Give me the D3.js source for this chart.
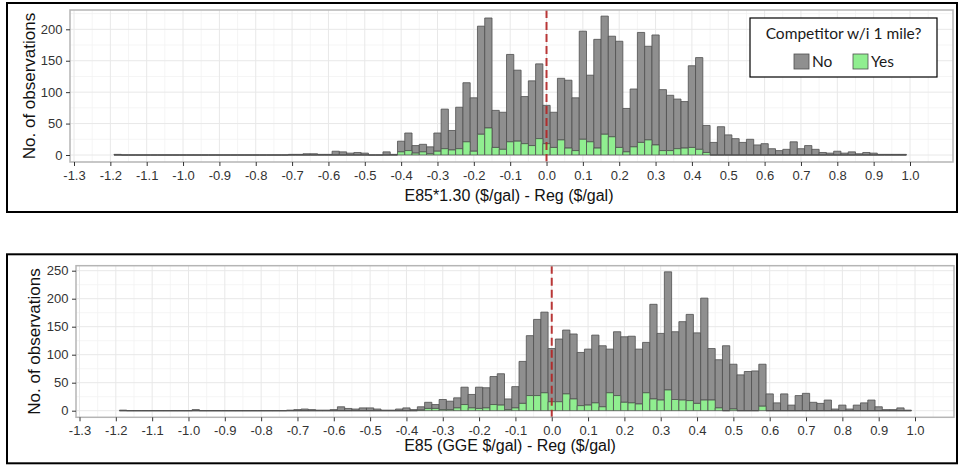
<!DOCTYPE html>
<html>
<head>
<meta charset="utf-8">
<script src="https://cdn.jsdelivr.net/npm/d3@7"></script>
<style>
  body { margin: 0; background: #fff; }
  svg { display: block; }
  text { font-family: "Liberation Sans", Arial, sans-serif; }
</style>
</head>
<body>
<svg id="chart" width="959" height="465"></svg>
<script>
// histogram bins are 0.02 wide, the first one starts at -1.19
var binStart = -1.19
var binWidth = 0.02

var xTicks = [-1.3, -1.2, -1.1, -1.0, -0.9, -0.8, -0.7, -0.6, -0.5, -0.4, -0.3, -0.2, -0.1,
              0.0, 0.1, 0.2, 0.3, 0.4, 0.5, 0.6, 0.7, 0.8, 0.9, 1.0]
var topTicksY = [0, 50, 100, 150, 200]
var botTicksY = [0, 50, 100, 150, 200, 250]
var groups = ["No", "Yes"]

// top chart: E85*1.30 - Reg, total count per bin and the "Yes" (competitor) part
var topAll = [1, 0, 0, 0, 0, 0, 0, 0, 0, 0,
              0, 0, 0, 0, 0, 0, 0, 0, 0, 0,
              0, 0, 0, 0, 1, 1, 2, 2, 1, 1,
              6, 5, 3, 4, 3, 0, 0, 5, 1, 22,
              35, 15, 17, 13, 35, 73, 39, 76, 115, 91,
              205, 218, 71, 68, 160, 135, 93, 118, 145, 79,
              68, 122, 119, 91, 197, 127, 184, 221, 189, 181,
              74, 105, 195, 173, 191, 104, 95, 89, 85, 142,
              155, 47, 20, 45, 32, 26, 20, 25, 16, 18,
              10, 7, 9, 21, 10, 15, 9, 4, 3, 6,
              3, 5, 2, 4, 3, 1, 1, 1, 1]
var topYes = [0, 0, 0, 0, 0, 0, 0, 0, 0, 0,
              0, 0, 0, 0, 0, 0, 0, 0, 0, 0,
              0, 0, 0, 0, 0, 0, 0, 0, 0, 0,
              0, 0, 0, 0, 0, 0, 0, 0, 0, 5,
              7, 3, 5, 2, 6, 10, 8, 10, 21, 6,
              33, 43, 12, 9, 21, 22, 18, 15, 26, 18,
              12, 24, 11, 7, 25, 21, 11, 33, 29, 12,
              5, 13, 20, 24, 16, 7, 7, 10, 11, 12,
              9, 4, 0, 0, 0, 0, 0, 0, 0, 0,
              0, 0, 0, 0, 0, 0, 0, 0, 0, 0,
              0, 0, 0, 0, 0, 0, 0, 0, 0]

// bottom chart: E85 (GGE) - Reg
var botAll = [1, 0, 0, 0, 0, 0, 0, 0, 0, 0,
              2, 0, 0, 0, 0, 0, 0, 0, 0, 0,
              0, 0, 0, 1, 2, 3, 2, 1, 1, 2,
              7, 4, 3, 5, 5, 3, 1, 1, 3, 5,
              2, 7, 15, 11, 20, 17, 23, 42, 29, 42,
              41, 61, 66, 21, 43, 88, 134, 163, 176, 111,
              128, 144, 137, 104, 110, 135, 116, 110, 141, 132,
              133, 110, 122, 190, 138, 248, 141, 159, 172, 139,
              201, 111, 91, 116, 83, 64, 70, 71, 83, 30,
              14, 30, 10, 27, 31, 15, 13, 19, 3, 10,
              3, 10, 14, 19, 7, 2, 2, 5, 1]
var botYes = [0, 0, 0, 0, 0, 0, 0, 0, 0, 0,
              0, 0, 0, 0, 0, 0, 0, 0, 0, 0,
              0, 0, 0, 0, 0, 0, 0, 0, 0, 0,
              0, 0, 0, 0, 0, 0, 0, 0, 0, 0,
              0, 1, 4, 4, 2, 2, 5, 11, 5, 4,
              5, 11, 10, 2, 5, 13, 27, 27, 32, 16,
              16, 30, 21, 9, 10, 14, 7, 32, 27, 15,
              14, 12, 32, 21, 19, 37, 20, 19, 18, 13,
              19, 19, 5, 0, 3, 0, 0, 0, 8, 0,
              0, 0, 0, 0, 0, 0, 0, 0, 0, 0,
              0, 0, 0, 0, 0, 0, 0, 0, 0]

var color = d3.scaleOrdinal().domain(groups).range(["#8f8f8f", "#90ee90"])
var outline = "#4f4f4f"

var fmt = d3.formatLocale({decimal: ".", thousands: ",", grouping: [3], currency: ["$", ""], minus: "-"}).format(".1f")

var svg = d3.select("#chart")

function drawPanel(cfg, all, yes, yTicks, xTitle) {
  var g = svg.append("g")

  var x = d3.scaleLinear().domain([xTicks[0], xTicks[xTicks.length - 1]]).range([cfg.x13, cfg.x10])
  var y = d3.scaleLinear().domain([0, yTicks[yTicks.length - 1]]).range([cfg.y0, cfg.yTopTick])

  // outer black frame
  g.append("rect")
    .attr("x", cfg.frame[0]).attr("y", cfg.frame[1])
    .attr("width", cfg.frame[2]).attr("height", cfg.frame[3])
    .attr("fill", "none").attr("stroke", "#000").attr("stroke-width", 2)

  // minor grid (halfway between breaks, plus one past the last one if it fits)
  var xMinor = xTicks.slice(0, -1).map(function(t, i) { return (t + xTicks[i + 1]) / 2 })
  xMinor.push(xTicks[xTicks.length - 1] + 0.05)
  xMinor = xMinor.filter(function(v) { return x(v) > cfg.left && x(v) < cfg.right })
  var yStep = yTicks[1] - yTicks[0]
  var yMinor = yTicks.map(function(t) { return t + yStep / 2 })
    .filter(function(v) { return y(v) > cfg.top })

  g.selectAll(".vminor").data(xMinor).enter().append("line")
    .attr("x1", function(d) { return x(d) }).attr("x2", function(d) { return x(d) })
    .attr("y1", cfg.top).attr("y2", cfg.bottom)
    .attr("stroke", "#f2f2f2").attr("stroke-width", 0.8)
  g.selectAll(".hminor").data(yMinor).enter().append("line")
    .attr("x1", cfg.left).attr("x2", cfg.right)
    .attr("y1", function(d) { return y(d) }).attr("y2", function(d) { return y(d) })
    .attr("stroke", "#f2f2f2").attr("stroke-width", 0.8)
  g.selectAll(".vmajor").data(xTicks).enter().append("line")
    .attr("x1", function(d) { return x(d) }).attr("x2", function(d) { return x(d) })
    .attr("y1", cfg.top).attr("y2", cfg.bottom)
    .attr("stroke", "#e8e8e8").attr("stroke-width", 1)
  g.selectAll(".hmajor").data(yTicks).enter().append("line")
    .attr("x1", cfg.left).attr("x2", cfg.right)
    .attr("y1", function(d) { return y(d) }).attr("y2", function(d) { return y(d) })
    .attr("stroke", "#e8e8e8").attr("stroke-width", 1)

  // stacked bins: Yes at the bottom, No on top. paths so empty bins still show as a line
  var bins = all.map(function(n, i) {
    var lo = binStart + i * binWidth
    return {lo: lo, hi: lo + binWidth, yes: yes[i], all: n}
  })
  function seg(d, a, b) {
    return "M" + x(d.lo) + "," + y(a) + "H" + x(d.hi) + "V" + y(b) + "H" + x(d.lo) + "Z"
  }
  g.selectAll(".no").data(bins).enter().append("path")
    .attr("d", function(d) { return seg(d, d.yes, d.all) })
    .attr("fill", color("No")).attr("stroke", outline).attr("stroke-width", 0.8)
  g.selectAll(".yes").data(bins).enter().append("path")
    .attr("d", function(d) { return seg(d, 0, d.yes) })
    .attr("fill", color("Yes")).attr("stroke", outline).attr("stroke-width", 0.8)

  // reference line at zero
  g.append("line")
    .attr("x1", x(0)).attr("x2", x(0))
    .attr("y1", cfg.top).attr("y2", cfg.bottom)
    .attr("stroke", "#b22222").attr("stroke-opacity", 0.9)
    .attr("stroke-width", 2).attr("stroke-dasharray", "8,4")

  // panel border
  g.append("rect")
    .attr("x", cfg.left).attr("y", cfg.top)
    .attr("width", cfg.right - cfg.left).attr("height", cfg.bottom - cfg.top)
    .attr("fill", "none").attr("stroke", "#b5b5b5").attr("stroke-width", 1.5)

  // axes
  var xAxis = g.append("g")
    .attr("transform", "translate(0," + cfg.bottom + ")")
    .call(d3.axisBottom(x).tickValues(xTicks).tickFormat(fmt).tickSize(4).tickPadding(cfg.xPad))
  var yAxis = g.append("g")
    .attr("transform", "translate(" + cfg.left + ",0)")
    .call(d3.axisLeft(y).tickValues(yTicks).tickSize(4).tickPadding(3.5))
  ;[xAxis, yAxis].forEach(function(a) {
    a.select(".domain").remove()
    a.selectAll(".tick line").attr("stroke", "#333").attr("stroke-width", 1)
    a.selectAll(".tick text")
      .attr("fill", "#333")
      .style("font-size", "13px")
      .style("font-family", '"Liberation Sans", Arial, sans-serif')
  })

  // axis titles
  g.append("text")
    .attr("x", cfg.xTitleX).attr("y", cfg.xTitleY)
    .attr("text-anchor", "middle")
    .style("font-size", "16px").attr("fill", "#111")
    .text(xTitle)
  g.append("text")
    .attr("transform", "translate(" + cfg.yTitleX + "," + (cfg.top + cfg.bottom) / 2 + ") rotate(-90)")
    .attr("text-anchor", "middle").attr("dy", "0.35em")
    .style("font-size", "17px").attr("fill", "#111")
    .text("No. of observations")
}

drawPanel({x13: 74, x10: 910, left: 70, right: 953, top: 10, bottom: 162, xPad: 4.5,
           y0: 155, yTopTick: 29.3, frame: [7, 3, 950, 209], yTitleX: 29, xTitleX: 509, xTitleY: 200.5},
          topAll, topYes, topTicksY, "E85*1.30 ($/gal) - Reg ($/gal)")

drawPanel({x13: 79.5, x10: 915, left: 76, right: 954, top: 265.7, bottom: 417.3, xPad: 4,
           y0: 410.7, yTopTick: 270.7, frame: [7, 254.3, 950, 209], yTitleX: 34, xTitleX: 510, xTitleY: 450.5},
          botAll, botYes, botTicksY, "E85 (GGE $/gal) - Reg ($/gal)")

// legend (top chart only)
var leg = svg.append("g")
leg.append("rect")
  .attr("x", 750).attr("y", 18).attr("width", 187).attr("height", 59)
  .attr("fill", "#fff").attr("stroke", "#000").attr("stroke-width", 1.2)
leg.append("text")
  .attr("x", 843.5).attr("y", 38.5).attr("text-anchor", "middle")
  .style("font-family", "Lato, sans-serif").style("font-size", "15.5px").attr("fill", "#1a1a1a")
  .text("Competitor w/i 1 mile?")
var keyX = [794, 853]
var keys = leg.selectAll(".key").data(groups).enter().append("g")
  .attr("transform", function(d, i) { return "translate(" + keyX[i] + ",54)" })
keys.append("rect")
  .attr("width", 15).attr("height", 15)
  .attr("fill", function(d) { return color(d) })
  .attr("stroke", outline).attr("stroke-width", 0.8)
keys.append("text")
  .attr("x", 18).attr("y", 13)
  .style("font-family", "Lato, sans-serif").style("font-size", "15.5px").attr("fill", "#1a1a1a")
  .text(function(d) { return d })
</script>
</body>
</html>
